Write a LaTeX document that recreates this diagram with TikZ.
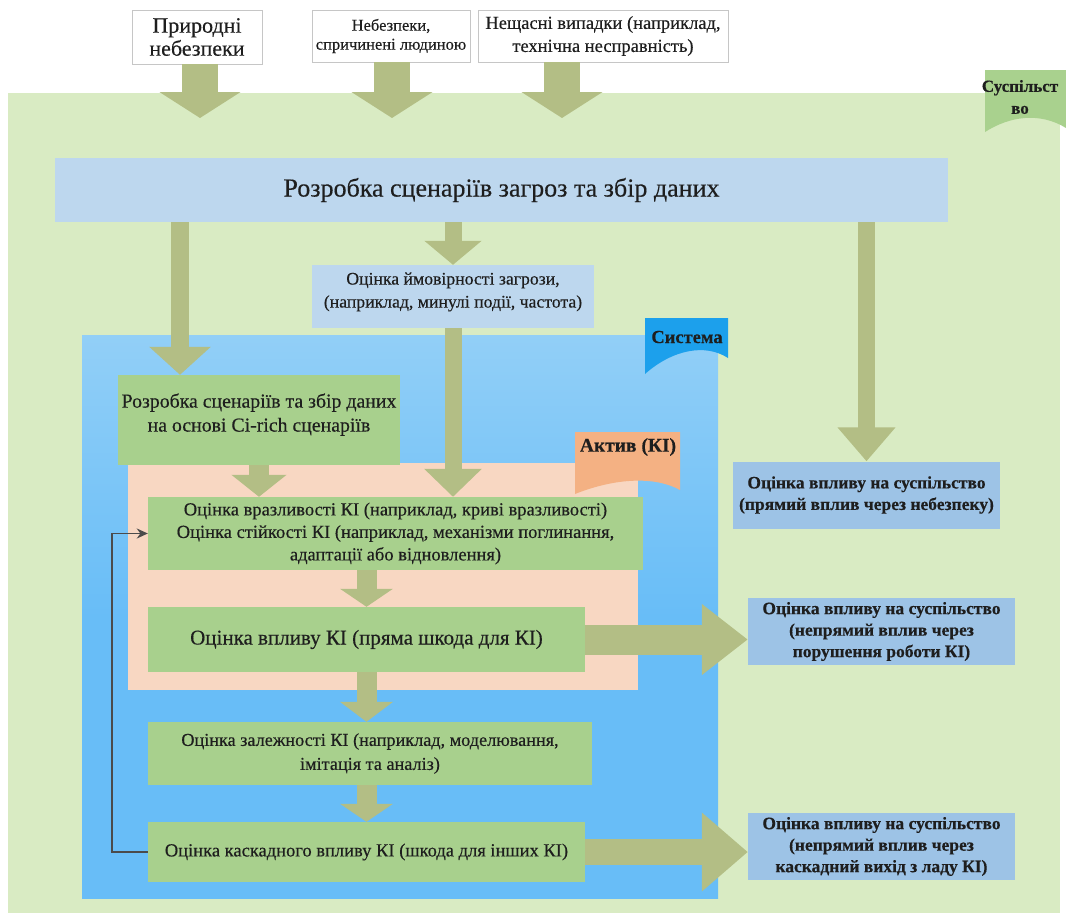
\documentclass[tikz,border=0pt]{standalone}
\usepackage{fontspec}
\setmainfont{Liberation Serif}[FakeBold=0.35]
\usetikzlibrary{arrows.meta}

\definecolor{society}{HTML}{D9EBC3}
\definecolor{societytab}{HTML}{A9D18E}
\definecolor{sysblue}{HTML}{68BDF7}
\definecolor{systop}{HTML}{92CFF7}
\definecolor{systab}{HTML}{1CA0EC}
\definecolor{asset}{HTML}{F8D7C2}
\definecolor{assettab}{HTML}{F4B183}
\definecolor{boxgreen}{HTML}{A8D08D}
\definecolor{paleblue}{HTML}{BDD7EE}
\definecolor{socblue}{HTML}{9DC3E6}
\definecolor{olive}{HTML}{B3BE85}
\definecolor{ink}{HTML}{1E1E1E}

\begin{document}
\begin{tikzpicture}[x=1pt,y=-1pt,font=\fontsize{18.5}{22.5}\selectfont,
  box/.style={inner sep=0pt,align=center,text=ink},
  topbox/.style={box,draw=gray!45,fill=white},
  greenbox/.style={box,fill=boxgreen},
  socbox/.style={box,fill=socblue,font=\fontsize{17.5}{21.5}\selectfont\bfseries,minimum width=267pt,minimum height=67pt},
  tabtext/.style={text=ink,font=\fontsize{18.5}{22}\selectfont\bfseries},
  fat/.style n args={3}{draw=olive,line width=#1,-{Triangle[width=#2,length=#3]}},
  fb/.style={draw=ink!80,line width=1.8pt,-{Stealth[length=11pt,width=10pt]}}]
\useasboundingbox (0,0) rectangle (1066,913);
\fill[society] (8,93) rectangle (1060,913);
\fill[societytab] (985,70) -- (1066,70) -- (1066,128) .. controls (1040,112) and (1010,116) .. (985,132) -- cycle;
\node[tabtext,align=center,font=\fontsize{17}{22}\selectfont\bfseries] (soctab) at (1020,97) {Суспільст\\во};

% threats
\node[topbox,minimum width=130pt,minimum height=54pt,font=\fontsize{22}{23}\selectfont] (t1) at (197,37) {Природні\\небезпеки};
\node[topbox,minimum width=158pt,minimum height=52pt,font=\fontsize{16.5}{19}\selectfont] (t2) at (391,36) {Небезпеки,\\спричинені людиною};
\node[topbox,minimum width=250pt,minimum height=52pt,font=\fontsize{18.5}{23}\selectfont] (t3) at (603,36) {Нещасні випадки (наприклад,\\технічна несправність)};
\coordinate (in1) at (200,118);\coordinate (in2) at (392,118);\coordinate (in3) at (562,118);
\draw[fat={36pt}{80pt}{26pt}] (in1|-t1.south) -- (in1);
\draw[fat={36pt}{80pt}{26pt}] (in2|-t2.south) -- (in2);
\draw[fat={36pt}{80pt}{26pt}] (in3|-t3.south) -- (in3);

\node[box,fill=paleblue,minimum width=893pt,minimum height=64pt,font=\fontsize{26}{30}\selectfont] (hdr) at (501.5,190) {Розробка сценаріїв загроз та збір даних};

% system and asset
\shade[top color=systop,bottom color=sysblue,middle color=sysblue] (82,335) rectangle (718,898);
\fill[systab] (645,318) -- (728,318) -- (728,358) .. controls (705,343) and (672,350) .. (645,374) -- cycle;
\node[tabtext] (systxt) at (687,337) {Система};
\node[box,fill=paleblue,minimum width=282pt,minimum height=63pt,font=\fontsize{17.7}{23}\selectfont] (prob) at (453,296.5) {Оцінка ймовірності загрози,\\(наприклад, минулі події, частота)\\[-10pt]\mbox{}};
\fill[asset] (128,463) rectangle (638,690);
\fill[assettab] (575,432) -- (680,432) -- (680,490) .. controls (655,476) and (615,478) .. (575,494) -- cycle;
\node[tabtext,font=\fontsize{19.5}{22}\selectfont\bfseries] (assettxt) at (628,447) {Актив (КІ)};

\node[greenbox,minimum width=282pt,minimum height=90pt,font=\fontsize{19.8}{24}\selectfont] (scen) at (259,420) {Розробка сценаріїв та збір даних\\на основі Ci-rich сценаріїв\\[-9pt]\mbox{}};
\node[greenbox,minimum width=495pt,minimum height=73pt] (vuln) at (395.5,533.5) {Оцінка вразливості КІ (наприклад, криві вразливості)\\Оцінка стійкості КІ (наприклад, механізми поглинання,\\адаптації або відновлення)};
\node[greenbox,minimum width=437pt,minimum height=65pt,font=\fontsize{21}{24}\selectfont] (impact) at (366.5,639.5) {Оцінка впливу КІ (пряма шкода для КІ)};
\node[greenbox,minimum width=444pt,minimum height=63pt,font=\fontsize{18.2}{24}\selectfont] (dep) at (370,753.5) {Оцінка залежності КІ (наприклад, моделювання,\\імітація та аналіз)};
\node[greenbox,minimum width=437pt,minimum height=60pt] (casc) at (366.5,852) {Оцінка каскадного впливу КІ (шкода для інших КІ)};

\node[socbox] (soc1) at (866.5,495) {Оцінка впливу на суспільство\\(прямий вплив через небезпеку)};
\node[socbox] (soc2) at (881.5,631.5) {Оцінка впливу на суспільство\\(непрямий вплив через\\порушення роботи КІ)};
\node[socbox] (soc3) at (881.5,846.5) {Оцінка впливу на суспільство\\(непрямий вплив через\\каскадний вихід з ладу КІ)};

% flow
\draw[fat={18pt}{60pt}{28pt}] (hdr.south-|180,0) -- (scen.north-|180,0);
\draw[fat={17pt}{56pt}{24pt}] (prob.north|-hdr.south) -- (prob.north);
\draw[fat={17pt}{56pt}{34pt}] (soc1.north|-hdr.south) -- (soc1.north);
\draw[fat={17pt}{56pt}{28pt}] (prob.south) -- (prob.south|-vuln.north);
\draw[fat={20pt}{54pt}{22pt}] (scen.south) -- (scen.south|-vuln.north);
\draw[fat={20pt}{52pt}{18pt}] (impact.north|-vuln.south) -- (impact.north);
\draw[fat={20pt}{52pt}{20pt}] (impact.south) -- (impact.south|-dep.north);
\draw[fat={20pt}{52pt}{18pt}] (casc.north|-dep.south) -- (casc.north);
\draw[fat={30pt}{68pt}{46pt}] (impact.east) -- (impact.east-|soc2.west);
\draw[fat={26pt}{76pt}{46pt}] (casc.east) -- (casc.east-|soc3.west);
\draw[fb] (casc.west) -- ++(-36,0) |- (vuln.west);
\end{tikzpicture}
\end{document}
